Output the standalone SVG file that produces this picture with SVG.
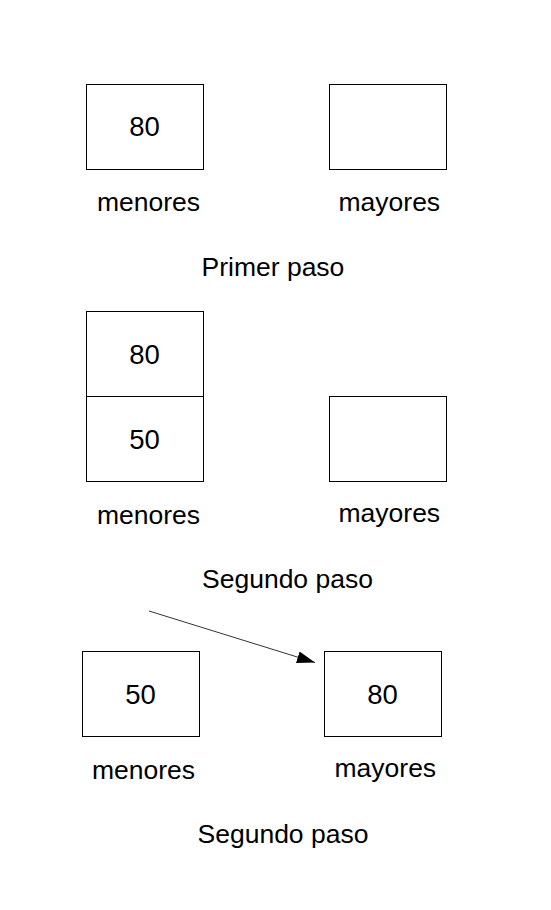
<svg xmlns="http://www.w3.org/2000/svg" width="551" height="910" viewBox="0 0 551 910">
<style>
.box{fill:#fff;stroke:#000;stroke-width:1}
.t{font-family:"Liberation Sans",Arial,sans-serif;font-size:26.5px;fill:#000}
.m{text-anchor:middle;font-size:27.5px}
.conn{stroke:#000;stroke-width:0.8;fill:none}
</style>
<defs>
<marker id="ah" markerUnits="userSpaceOnUse" markerWidth="20" markerHeight="14" refX="18" refY="6" orient="auto" viewBox="0 0 20 12">
<path d="M0,0 L18,6 L0,12 Z" fill="#000"/>
</marker>
</defs>
<rect width="551" height="910" fill="#fff"/>
<g id="paso1">
<g id="p1-menores"><rect class="box" x="86.5" y="84.5" width="117" height="85"/><text class="t m" x="144.5" y="136">80</text><text class="t" x="97" y="210.5">menores</text></g>
<g id="p1-mayores"><rect class="box" x="329.5" y="84.5" width="117" height="85"/><text class="t" x="338.5" y="210.5">mayores</text></g>
<text class="t" x="201.5" y="276">Primer paso</text>
</g>
<g id="paso2">
<g id="p2-menores"><rect class="box" x="86.5" y="311.5" width="117" height="85"/><text class="t m" x="144.5" y="364">80</text><rect class="box" x="86.5" y="396.5" width="117" height="85"/><text class="t m" x="144.5" y="449">50</text><text class="t" x="97" y="523.5">menores</text></g>
<g id="p2-mayores"><rect class="box" x="329.5" y="396.5" width="117" height="85"/><text class="t" x="338.5" y="521.5">mayores</text></g>
<text class="t" x="202" y="588">Segundo paso</text>
</g>
<g id="paso3">
<g id="p3-menores"><rect class="box" x="82.5" y="651.5" width="117" height="85"/><text class="t m" x="140.5" y="704">50</text><text class="t" x="92" y="778.5">menores</text></g>
<g id="p3-mayores"><rect class="box" x="324.5" y="651.5" width="117" height="85"/><text class="t m" x="382.5" y="704">80</text><text class="t" x="334.5" y="776.5">mayores</text></g>
<text class="t" x="197.5" y="843">Segundo paso</text>
</g>
<g id="connectors">
<line class="conn" x1="149" y1="611" x2="315" y2="662.5" marker-end="url(#ah)"/>
</g>
</svg>
